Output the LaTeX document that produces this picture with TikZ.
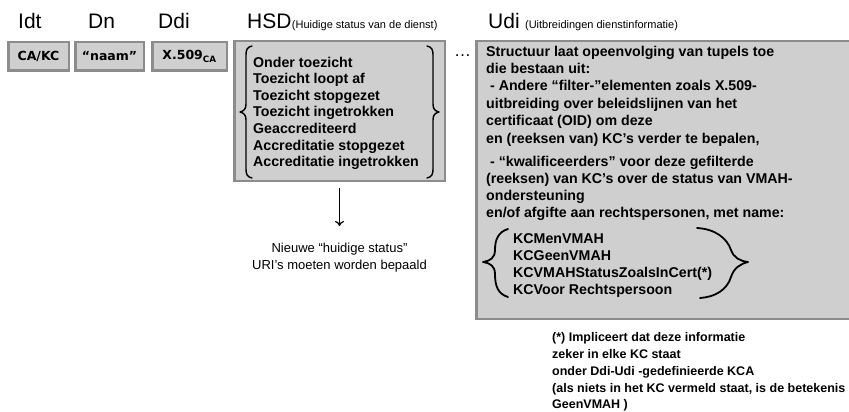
\documentclass[tikz,border=0pt]{standalone}
\usepackage{fontspec}
\setmainfont{Liberation Sans}
\newfontfamily\vfont{DejaVu Sans}
\usetikzlibrary{arrows.meta}
\definecolor{boxfill}{RGB}{207,207,207}
\definecolor{boxline}{RGB}{140,140,140}
\begin{document}
\begin{tikzpicture}[x=1pt,y=-1pt,
  cell/.style={draw=boxline,fill=boxfill,line width=2.5pt,inner sep=0pt},
  head/.style={anchor=base west,inner sep=0pt,font=\fontsize{21}{24}\selectfont},
  sub/.style={anchor=base west,inner sep=0pt,font=\fontsize{11}{13}\selectfont},
  celltext/.style={inner sep=0pt,font=\vfont\bfseries\fontsize{12.5}{15}\selectfont},
  bt/.style={anchor=base west,inner sep=0pt,font=\bfseries\fontsize{14.2}{17}\selectfont},
  note/.style={anchor=base west,inner sep=0pt,font=\bfseries\fontsize{12.5}{15}\selectfont},
  plain/.style={inner sep=0pt,font=\fontsize{13}{17}\selectfont},
  brace/.style={line width=1.4pt,line cap=round,line join=round},
  bigbrace/.style={line width=1.8pt,line cap=round,line join=round}]
\useasboundingbox (0,0) rectangle (849,412);

% headings
\node[head] (hidt) at (18,29) {Idt};
\node[head] (hdn) at (88,29) {Dn};
\node[head] (hddi) at (158,29) {Ddi};
\node[head] (hhsd) at (247,29) {HSD};
\node[sub] (shsd) at (hhsd.base east) {(Huidige status van de dienst)};
\node[head] (hudi) at (488,29) {Udi};
\node[sub] (sudi) at ([xshift=5pt]hudi.base east) {(Uitbreidingen dienstinformatie)};

% small cells
\node[cell,minimum width=60.5pt,minimum height=28.5pt] (idt) at (38.5,56.5) {};
\node[celltext] (tidt) at (idt) {CA/KC};
\node[cell,minimum width=68.5pt,minimum height=28.5pt] (dn) at (109.5,56.5) {};
\node[celltext] (tdn) at (dn) {“naam”};
\node[cell,minimum width=74.5pt,minimum height=28.5pt] (ddi) at (189.5,56.5) {};
\node[celltext] (tddi) at (ddi) {X.509\textsubscript{CA}};

% HSD box
\node[cell,minimum width=210.5pt,minimum height=139.5pt] (hsd) at (339.5,111) {};
\foreach \t [count=\i] in {Onder toezicht,Toezicht loopt af,Toezicht stopgezet,Toezicht ingetrokken,Geaccrediteerd,Accreditatie stopgezet,Accreditatie ingetrokken}
  \node[bt] (h\i) at (253,50.4+16.6*\i) {\t};
\draw[brace] (252,46) .. controls (247,47) and (246,50) .. (246,55) -- (246,104)
  .. controls (246,109) and (244,111) .. (240,112) .. controls (244,113) and (246,115) .. (246,120)
  -- (246,169) .. controls (246,174) and (247,177) .. (252,178);
\draw[brace] (427,46) .. controls (432,47) and (433,50) .. (433,55) -- (433,104)
  .. controls (433,109) and (435,111) .. (439,112) .. controls (435,113) and (433,115) .. (433,120)
  -- (433,169) .. controls (433,174) and (432,177) .. (427,178);

\node[anchor=base west,inner sep=0pt,font=\fontsize{17}{17}\selectfont] (dots) at (454,57) {…};

% Udi box
\node[cell,minimum width=374pt,minimum height=277.5pt] (udi) at (663.25,180) {};
\node[bt] (u1) at (486,57) {Structuur laat opeenvolging van tupels toe};
\node[bt] (u2) at (486,74) {die bestaan uit:};
\node[bt] (u3) at (486,91) {\ - Andere “filter-”elementen zoals X.509-};
\node[bt] (u4) at (486,108) {uitbreiding over beleidslijnen van het};
\node[bt] (u5) at (486,125) {certificaat (OID) om deze};
\node[bt] (u6) at (486,143) {en (reeksen van) KC’s verder te bepalen,};
\node[bt] (u7) at (486,166) {\ - “kwalificeerders” voor deze gefilterde};
\node[bt] (u8) at (486,183) {(reeksen) van KC’s over de status van VMAH-};
\node[bt] (u9) at (486,200) {ondersteuning};
\node[bt] (u10) at (486,217) {en/of afgifte aan rechtspersonen, met name:};
\node[bt] (k1) at (513,243) {KCMenVMAH};
\node[bt] (k2) at (513,260) {KCGeenVMAH};
\node[bt] (k3) at (513,277) {KCVMAHStatusZoalsInCert(*)};
\node[bt] (k4) at (513,294) {KCVoor Rechtspersoon};
\draw[bigbrace] (508,229) .. controls (498,232) and (495,240) .. (495,250)
  .. controls (495,258) and (490,261) .. (483,262) .. controls (490,263) and (495,266) .. (495,274)
  .. controls (495,286) and (498,294) .. (508,297);
\draw[bigbrace] (697,228) .. controls (715,229) and (727,238) .. (731,250)
  .. controls (734,258) and (740,261) .. (748,262) .. controls (740,264) and (734,268) .. (731,277)
  .. controls (727,290) and (715,297) .. (700,298);

% arrow and new status text
\node[plain,align=center,anchor=north] (nieuwe) at (339.5,243) {Nieuwe “huidige status”\\URI’s moeten worden bepaald};
\draw[line width=1.2pt,-{To[length=5pt,width=9pt]}] ([yshift=-6pt]hsd.south) -- ([yshift=17pt]nieuwe.north);

% footnote
\node[note] (n1) at (552,341) {(*) Impliceert dat deze informatie};
\node[note] (n2) at (552,358) {zeker in elke KC staat};
\node[note] (n3) at (552,375) {onder Ddi-Udi -gedefinieerde KCA};
\node[note] (n4) at (552,392) {(als niets in het KC vermeld staat, is de betekenis};
\node[note] (n5) at (552,408) {GeenVMAH )};
\end{tikzpicture}
\end{document}
